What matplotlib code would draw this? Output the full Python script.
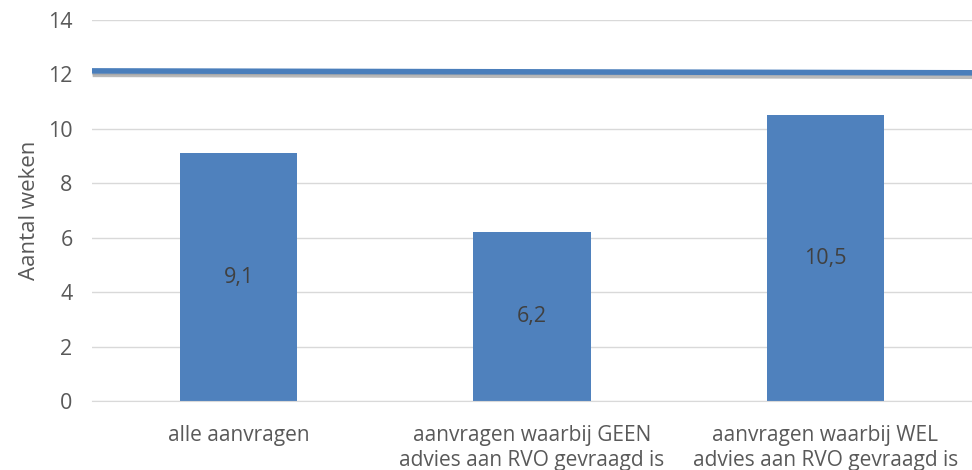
import matplotlib.pyplot as plt
import matplotlib.patheffects as pe

categories = ["alle aanvragen",
              "aanvragen waarbij GEEN\nadvies aan RVO gevraagd is",
              "aanvragen waarbij WEL\nadvies aan RVO gevraagd is"]
values = [9.1, 6.2, 10.5]
norm_x = [-0.5, 2.5]
norm_y = [12.13, 12.06]
y_ticks = [0, 2, 4, 6, 8, 10, 12, 14]

bar_color = "#4F81BD"
text_color = "#595959"
grid_color = "#D9D9D9"
font = "Open Sans"

fig = plt.figure(figsize=(9.72, 4.70), dpi=100)
ax = fig.add_axes([92 / 972, 1 - 401 / 470, 1 - 92 / 972, (401 - 20) / 470])

x = range(len(categories))
bars = ax.bar(x, values, width=0.4, color=bar_color, zorder=2)
for b, v in zip(bars, values):
    ax.text(b.get_x() + b.get_width() / 2, v / 2, ("%.1f" % v).replace(".", ","),
            ha="center", va="center", color="#404040", fontsize=15.5, fontname=font, zorder=3)

# norm line with a soft shadow underneath
ax.plot(norm_x, norm_y, color="#4A7EBB", lw=4, solid_capstyle="butt", zorder=4, clip_on=False,
        path_effects=[pe.SimpleLineShadow(offset=(0.5, -2.5), shadow_color="gray", alpha=0.55),
                      pe.Normal()])

ax.set_xlim(-0.5, 2.5)
ax.set_ylim(0, 14)
ax.set_yticks(y_ticks)
ax.set_yticklabels([str(t) for t in y_ticks], fontname=font, fontsize=15.5, color=text_color)
ax.set_xticks(list(x))
ax.set_xticklabels(categories, fontname=font, fontsize=15, color=text_color, linespacing=1.25)
ax.tick_params(axis="both", length=0)
ax.tick_params(axis="x", pad=17)
ax.tick_params(axis="y", pad=14)
ax.grid(True, axis="y", color=grid_color, lw=1, zorder=0)
for s in ["top", "right", "left"]:
    ax.spines[s].set_visible(False)
ax.spines["bottom"].set_color(grid_color)
ax.set_ylabel("Aantal weken", fontname=font, fontsize=16, color=text_color, labelpad=6)

fig.savefig("out.png", dpi=100, facecolor="white")
